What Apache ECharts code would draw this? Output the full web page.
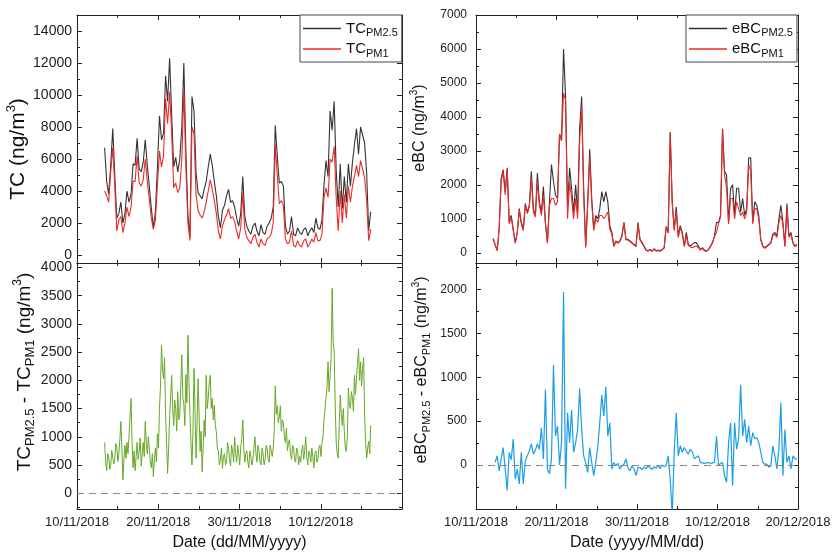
<!DOCTYPE html>
<html><head><meta charset="utf-8">
<script src="https://cdn.jsdelivr.net/npm/echarts@6/dist/echarts.min.js"></script>
<style>html,body{margin:0;padding:0;background:#fff}#c{width:834px;height:556px}</style>
</head><body><div id="c"></div>
<script>
// ---------- data ----------
const stepHours = 6;          // TC and eBC readings
const diffStepHours = 3;      // TC difference readings
const tcStart = '2018-11-13T09:36:00';
const ebcStart = '2018-11-12T03:00:00';
const ebcDiffStart = '2018-11-12T09:00:00';

const tcPM25 = [
 6700,4600,3800,5600, 7900,5000,2300,2600, 3300,2000,2600,4000, 3300,3800,5700,5600,
 7300,5400,5200,5800, 7200,5600,4300,2900, 1700,2700,5500,8700, 7200,7600,11200,9600,
 12300,8800,5500,6100, 5200,6000,8000,12000, 6500,2500,1100,9900, 9000,5200,3900,3700,
 3500,4100,4600,5500, 6300,5600,4600,3700, 2400,1700,2800,3100, 3700,4100,3300,3400,
 3000,2300,1800,2600, 4900,2400,1800,1500, 1300,1800,2000,1500, 1200,1900,1400,1300,
 1800,2000,2300,3000, 8100,6200,4500,4600, 4300,1800,1300,1500, 2400,1300,1200,1700,
 1400,1300,1600,1700, 1200,1500,1700,1400, 2300,1700,1600,2200, 4400,5900,4900,9000,
 7800,9600,5300,3000, 5700,2900,4900,3300, 5700,4300,5800,6900, 7900,6300,8000,7500,
 7000,5100,1500,2700
];
const tcPM1 = [
 4000,3700,3300,5200, 6700,4300,1500,2200, 2400,1400,2000,3000, 2400,3000,4600,4600,
 6200,4500,4300,4700, 6000,4600,3500,2300, 1600,2200,4400,6500, 5500,6200,9800,8200,
 10200,7600,4200,4500, 3900,4200,6000,10300, 5500,2000,900,8000, 7600,3800,2800,2500,
 2300,2700,3300,4000, 4700,4100,3400,2600, 1500,1000,1800,2200, 2500,2900,2300,2400,
 2100,1500,1000,1700, 3900,1600,1100,900, 700,1100,1300,800, 500,1000,700,600,
 1000,1100,1300,2000, 6900,5000,3200,3400, 3100,1000,700,800, 1500,600,500,900,
 600,500,900,1000, 500,700,1000,800, 1400,900,900,1300, 3600,4200,3600,6000,
 5800,6800,3600,1500, 4000,2000,3800,2300, 4300,3300,4300,4900, 5600,4900,5900,5400,
 4800,3400,900,1600
];
const tcDiff = [
 900,550,400,700,650,420,500,760, 780,520,600,880,820,560,700,950,
 1270,800,235,600,850,620,900,700, 1000,1350,1680,900,450,750,400,650,
 900,600,740,980,480,700,900,650, 1270,900,700,1000,800,550,450,700,
 295,600,800,550,1050,800,1500,1900, 2620,2200,2030,2400,1400,900,350,800,
 1380,1700,2090,1500,1200,1650,1500,1100, 1800,1300,1380,1900,2450,1700,1560,1200,
 2100,1600,2800,2000,1380,900,500,1100, 2210,1500,620,1200,2030,1400,740,1100,
 380,800,1300,1000,2090,1500,1680,1950, 2090,1500,1680,1300,1560,1200,1090,800,
 740,500,600,800,440,650,700,500, 550,900,800,600,480,850,750,550,
 1000,700,550,850,700,500,800,950, 1300,800,550,700,750,550,450,750,
 650,500,600,800,1000,700,550,850, 750,550,500,800,700,500,600,850,
 800,600,550,850,750,650,800,1100, 1900,1400,1550,1250,1350,1550,1100,1300,
 1250,1000,900,1150,750,900,950,700, 600,850,800,600,550,800,750,500,
 650,550,750,850,600,750,1000,650, 500,750,700,550,800,650,450,700,
 750,550,600,800,850,650,900,1000, 1300,1500,1680,1900,2330,1800,2090,2400,
 3630,2700,2500,1600,900,700,620,1200, 1740,1400,1200,1500,1090,800,740,1000,
 1860,1550,1500,1800,1680,1450,2090,1750, 2030,2300,2560,2000,2330,1900,2210,2400,
 1380,900,620,800,920,700,1200
];
const ebcPM25 = [
 420,250,80,700, 2200,2450,1800,2500, 900,1100,700,300, 600,1300,900,700,
 1450,1200,1400,2400, 1300,1100,2350,1500, 1200,1950,900,300, 1500,2600,2100,1700,
 1600,3500,3300,6000, 4600,1300,2500,1900, 1200,2000,1200,3650, 4600,1900,200,1500,
 3050,1600,700,1100, 1000,1300,1800,1500, 1800,1500,800,600, 200,350,300,350,
 500,900,400,400, 350,300,250,200, 900,400,300,200, 80,60,100,50,
 120,60,80,50, 100,150,780,600, 3550,1500,700,1350, 500,800,600,200,
 600,250,200,250, 300,300,200,100, 150,80,50,100, 200,300,500,900,
 880,1100,3650,2400, 2300,900,1900,2000, 1100,1900,1900,1200, 1600,1100,1300,2800,
 2800,900,1500,1400, 1100,400,200,150, 200,250,300,550, 600,500,1000,1400,
 900,200,1450,500, 600,300,200,250
];
const ebcPM1 = [
 400,240,60,680, 2100,2400,1700,2450, 850,1050,650,280, 580,1250,850,650,
 1400,1150,1350,2200, 1200,1050,2100,1400, 1100,1700,850,280, 1400,1600,1600,1400,
 1500,3500,3300,4700, 4500,1000,2100,1600, 1000,1600,1000,3300, 4300,1700,150,1400,
 2800,1500,650,1000, 900,1100,1100,1000, 1100,1200,700,550, 180,330,280,330,
 480,880,380,380, 330,280,230,180, 850,380,280,180, 70,50,90,40,
 110,50,70,40, 90,140,750,580, 3550,1450,650,1200, 450,750,550,180,
 500,220,180,150, 180,200,150,80, 130,60,40,90, 180,280,480,600,
 850,1050,3600,2300, 1900,850,1600,1600, 1000,1500,1300,1100, 1200,1000,1200,2600,
 2400,850,1300,1300, 1000,380,180,130, 180,230,280,500, 550,450,900,1100,
 850,180,1300,450, 550,280,180,230
];
const ebcDiff = [
 30,105,-65,70, 200,-45,-290,145, 60,295,-160,-45, -215,145,-215,50,
 105,160,240,125, 170,240,180,425, 70,860,-45,-100, 70,1140,330,445,
 0,255,1970,-270, 595,255,630,145, 255,405,870,405, 105,30,-85,200,
 30,-120,30,200, 480,800,560,890, 330,480,-45,30, -10,20,-45,-10,
 10,70,-30,-65, -10,-40,-120,-25, -30,-50,-20,-40, -10,-30,-50,-20,
 -35,-10,-40,0, -20,0,105,-160, -560,145,595,105, 220,145,200,160,
 125,180,150,70, 90,105,30,25, 20,25,30,20, 25,30,330,-10,
 20,30,-120,-195, 255,480,-235,480, 180,300,915,330, 520,255,445,220,
 370,300,315,255, 150,30,10,10, -25,-10,220,105, -45,180,710,-120,
 405,30,105,-45, 105,70,70
];

// ---------- axis ticks ----------
const xRange = ['2018-11-10', '2018-12-20'];
const dateTicks = ['2018-11-10','2018-11-20','2018-11-30','2018-12-10','2018-12-20'];
const dateMinorTicks = ['2018-11-15','2018-11-25','2018-12-05','2018-12-15'];
const leftDateLabels = ['2018-11-10','2018-11-20','2018-11-30','2018-12-10'];
const rightDateLabels = ['2018-11-10','2018-11-20','2018-11-30','2018-12-10','2018-12-20'];

const tcTicks = [0,2000,4000,6000,8000,10000,12000,14000];
const tcMinor = [1000,3000,5000,7000,9000,11000,13000];
const tcDiffTicks = [0,500,1000,1500,2000,2500,3000,3500,4000];
const tcDiffMinor = [-250,250,750,1250,1750,2250,2750,3250,3750];
const ebcTicks = [0,1000,2000,3000,4000,5000,6000,7000];
const ebcMinor = [500,1500,2500,3500,4500,5500,6500];
const ebcDiffTicks = [0,500,1000,1500,2000];
const ebcDiffMinor = [-250,250,750,1250,1750,2250];

// ---------- helpers ----------
const ts = s => new Date(s.length === 10 ? s + 'T00:00:00' : s).getTime();
const series2 = (start, arr, step) => arr.map((v, i) => [ts(start) + i * (step || stepHours) * 3600e3, v]);
const pad = n => (n < 10 ? '0' : '') + n;
const fmtDate = v => { const d = new Date(v); return pad(d.getDate()) + '/' + pad(d.getMonth() + 1) + '/' + d.getFullYear(); };

const FONT = '"Liberation Sans", Arial, sans-serif';
const AX = '#222';

const grids = [
  { left: 77,  top: 15,  width: 325, height: 248 },
  { left: 77,  top: 263, width: 325, height: 246 },
  { left: 476, top: 15,  width: 322, height: 248 },
  { left: 476, top: 263, width: 322, height: 246 }
];

function richFor(F) {
  return {
    m: { fontSize: F, lineHeight: Math.round(F * 1.3), fontFamily: FONT, color: '#111' },
    b: { fontSize: Math.round(F * 0.68), lineHeight: Math.round(F * 0.68), verticalAlign: 'bottom', fontFamily: FONT, color: '#111' },
    p: { fontSize: Math.round(F * 0.62), lineHeight: Math.round(F * 0.62), verticalAlign: 'top', fontFamily: FONT, color: '#111' }
  };
}

const xAxis = [], yAxis = [];
function addX(g, labels, name, nameGap) {
  const base = { type: 'value', gridIndex: g, min: ts(xRange[0]), max: ts(xRange[1]), splitLine: { show: false } };
  const tickStyle = { color: AX, width: 1 };
  xAxis.push(Object.assign({}, base, {
    position: 'bottom',
    axisLine: { show: true, onZero: false, lineStyle: { color: AX, width: 1 } },
    axisTick: { show: true, inside: true, length: 5, customValues: dateTicks.map(ts), lineStyle: tickStyle },
    axisLabel: labels ? { show: true, customValues: labels.map(ts), formatter: fmtDate, margin: 7, fontSize: 13, color: '#222', fontFamily: FONT } : { show: false },
    name: name || '', nameLocation: 'middle', nameGap: nameGap || 0,
    nameTextStyle: { fontSize: 16, color: '#111', fontFamily: FONT }
  }));
  xAxis.push(Object.assign({}, base, {
    position: 'bottom', axisLine: { show: false, onZero: false },
    axisTick: { show: true, inside: true, length: 3, customValues: dateMinorTicks.map(ts), lineStyle: tickStyle },
    axisLabel: { show: false }
  }));
  xAxis.push(Object.assign({}, base, {
    position: 'top', axisLine: { show: true, onZero: false, lineStyle: { color: AX, width: 1 } },
    axisTick: { show: true, inside: true, length: 5, customValues: dateTicks.map(ts), lineStyle: tickStyle },
    axisLabel: { show: false }
  }));
  xAxis.push(Object.assign({}, base, {
    position: 'top', axisLine: { show: false, onZero: false },
    axisTick: { show: true, inside: true, length: 3, customValues: dateMinorTicks.map(ts), lineStyle: tickStyle },
    axisLabel: { show: false }
  }));
}
function addY(g, min, max, ticks, minor, labelSize, labelMargin, name, nameSize, nameGap, namePad) {
  const base = { type: 'value', gridIndex: g, min: min, max: max, splitLine: { show: false } };
  const tickStyle = { color: AX, width: 1 };
  yAxis.push(Object.assign({}, base, {
    position: 'left',
    axisLine: { show: true, onZero: false, lineStyle: { color: AX, width: 1 } },
    axisTick: { show: true, inside: true, length: 5, customValues: ticks, lineStyle: tickStyle },
    axisLabel: { show: true, customValues: ticks, formatter: v => String(v), margin: labelMargin, fontSize: labelSize, color: '#222', fontFamily: FONT },
    name: name, nameLocation: 'middle', nameRotate: 90, nameGap: nameGap,
    nameTextStyle: { rich: richFor(nameSize), padding: namePad }
  }));
  yAxis.push(Object.assign({}, base, {
    position: 'left', axisLine: { show: false, onZero: false },
    axisTick: { show: true, inside: true, length: 3, customValues: minor, lineStyle: tickStyle },
    axisLabel: { show: false }
  }));
  yAxis.push(Object.assign({}, base, {
    position: 'right', axisLine: { show: true, onZero: false, lineStyle: { color: AX, width: 1 } },
    axisTick: { show: true, inside: true, length: 5, customValues: ticks, lineStyle: tickStyle },
    axisLabel: { show: false }
  }));
  yAxis.push(Object.assign({}, base, {
    position: 'right', axisLine: { show: false, onZero: false },
    axisTick: { show: true, inside: true, length: 3, customValues: minor, lineStyle: tickStyle },
    axisLabel: { show: false }
  }));
}

// grid 0: TC, grid 1: TC diff, grid 2: eBC, grid 3: eBC diff
addX(0, null);
addX(1, leftDateLabels, 'Date (dd/MM/yyyy)', 26);
addX(2, null);
addX(3, rightDateLabels, 'Date (yyyy/MM/dd)', 26);

addY(0, -500, 15000, tcTicks, tcMinor, 14, 5, '{m|TC (ng/m}{p|3}{m|)}', 21, 42, [0, 20, 0, 0]);
addY(1, -280, 4080, tcDiffTicks, tcDiffMinor, 14, 5, '{m|TC}{b|PM2.5}{m| - TC}{b|PM1}{m| (ng/m}{p|3}{m|)}', 19, 40, [0, 0, 0, 28]);
addY(2, -300, 7000, ebcTicks, ebcMinor, 12, 9, '{m|eBC (ng/m}{p|3}{m|)}', 16, 46, [0, 0, 0, 22]);
addY(3, -500, 2300, ebcDiffTicks, ebcDiffMinor, 12, 9, '{m|eBC}{b|PM2.5}{m| - eBC}{b|PM1}{m| (ng/m}{p|3}{m|)}', 16, 44, [0, 0, 0, 32]);

const zeroLine = {
  silent: true, symbol: 'none', label: { show: false },
  lineStyle: { color: '#888', type: [7, 5], width: 1 },
  data: [{ yAxis: 0 }]
};
function line(name, g, data, color, width, extra) {
  return Object.assign({
    name: name, type: 'line', xAxisIndex: 4 * g, yAxisIndex: 4 * g,
    data: data, showSymbol: false, symbol: 'none', animation: false,
    lineStyle: { color: color, width: width }, itemStyle: { color: color }, z: 3
  }, extra || {});
}

const legendRich = {
  m: { fontSize: 15, lineHeight: 20, fontFamily: FONT, color: '#111' },
  s: { fontSize: 11, lineHeight: 11, verticalAlign: 'bottom', fontFamily: FONT, color: '#111' }
};
const legendFmt = n => { const k = n.split('_'); return '{m|' + k[0] + '}{s|' + k[1] + '}'; };
function legendAt(left, names) {
  return {
    data: names, left: left, top: 15, orient: 'vertical', icon: 'rect',
    itemWidth: 38, itemHeight: 1.5, itemGap: 3, padding: [6, 4, 3, 3],
    borderColor: '#444', borderWidth: 1, backgroundColor: '#fff',
    formatter: legendFmt, textStyle: { rich: legendRich }, selectedMode: false
  };
}

const option = {
  animation: false,
  backgroundColor: '#fff',
  textStyle: { fontFamily: FONT },
  grid: grids,
  xAxis: xAxis,
  yAxis: yAxis,
  legend: [
    legendAt(300, ['TC_PM2.5', 'TC_PM1']),
    legendAt(686, ['eBC_PM2.5', 'eBC_PM1'])
  ],
  series: [
    line('TC_PM2.5', 0, series2(tcStart, tcPM25), '#333333', 1.1),
    line('TC_PM1', 0, series2(tcStart, tcPM1), '#ec2a2a', 1.1, { z: 4 }),
    line('TC diff', 1, series2(tcStart, tcDiff, diffStepHours), '#68a828', 1, { markLine: zeroLine }),
    line('eBC_PM2.5', 2, series2(ebcStart, ebcPM25), '#333333', 1.1),
    line('eBC_PM1', 2, series2(ebcStart, ebcPM1), '#ec2a2a', 1.1, { z: 4 }),
    line('eBC diff', 3, series2(ebcDiffStart, ebcDiff), '#1c9de6', 1.2, { markLine: zeroLine })
  ]
};
const chart = echarts.init(document.getElementById('c'), null, { renderer: 'canvas' });
chart.setOption(option);
</script>
</body></html>
